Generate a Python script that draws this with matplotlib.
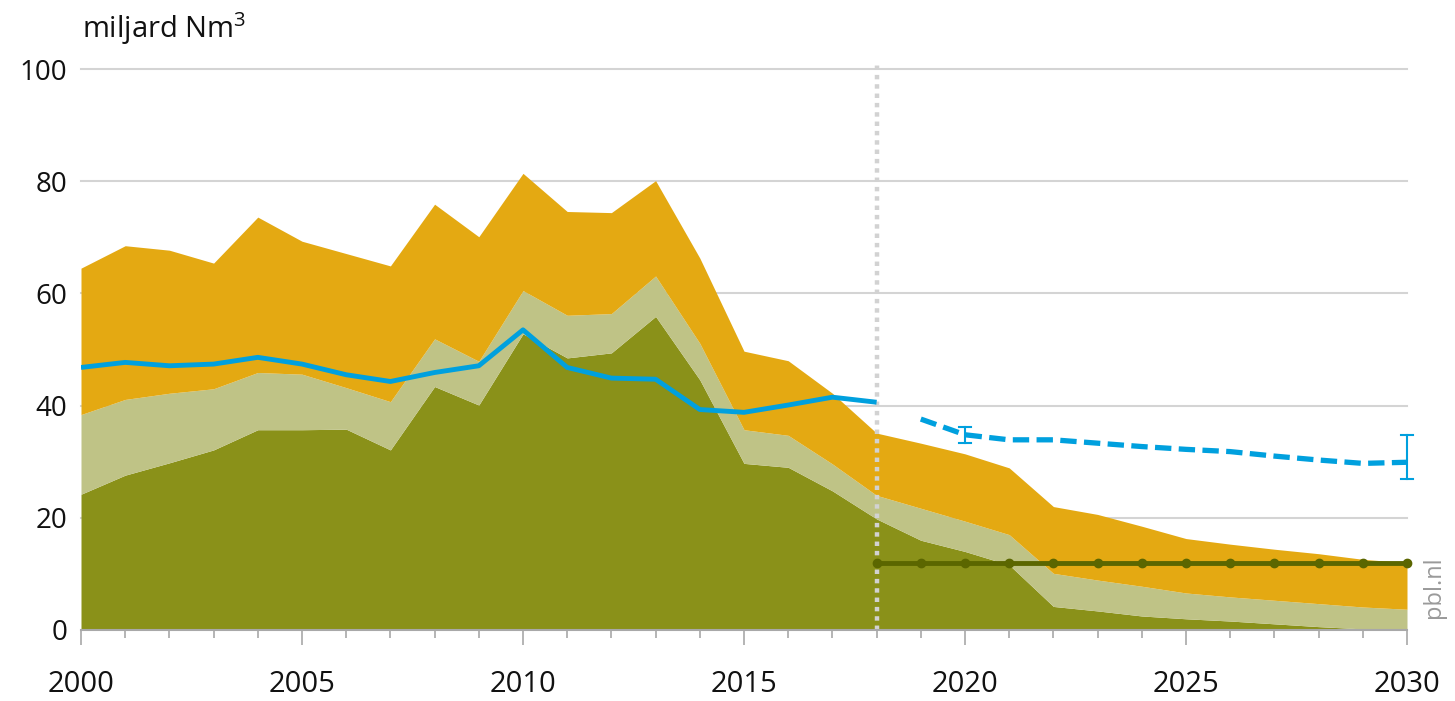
"""Aardgasverbruik en -productie, miljard Nm3, 2000-2030."""

import matplotlib

matplotlib.use("Agg")
import matplotlib.pyplot as plt
from matplotlib.ticker import MultipleLocator

plt.rcParams["font.family"] = ["Open Sans", "DejaVu Sans"]
plt.rcParams["mathtext.fontset"] = "custom"
plt.rcParams["mathtext.rm"] = "Open Sans"
plt.rcParams["mathtext.it"] = "Open Sans"

years = list(range(2000, 2031))

# bovenkant van elke laag (gestapeld)
green_top = [24.2, 27.6, 29.8, 32.1, 35.7, 35.7, 35.8, 32.1, 43.4, 40.1,
             52.8, 48.5, 49.4, 55.9, 44.6, 29.7, 29.0, 24.8, 19.8, 16.0,
             14.0, 11.6, 4.2, 3.4, 2.5, 2.0, 1.6, 1.1, 0.6, 0.2, 0.0]
khaki_top = [38.4, 41.1, 42.2, 43.0, 45.9, 45.6, 43.2, 40.7, 51.9, 47.9,
             60.5, 56.1, 56.4, 63.1, 51.1, 35.7, 34.7, 29.6, 24.0, 21.7,
             19.4, 17.0, 10.1, 8.9, 7.8, 6.6, 5.9, 5.3, 4.7, 4.1, 3.7]
orange_top = [64.5, 68.5, 67.7, 65.4, 73.6, 69.3, 67.1, 64.9, 75.9, 70.1,
              81.4, 74.6, 74.4, 80.1, 66.3, 49.7, 48.0, 42.2, 35.1, 33.3,
              31.4, 28.9, 22.0, 20.6, 18.5, 16.3, 15.3, 14.4, 13.6, 12.6, 12.0]

# verbruik: historisch (doorgetrokken) en raming (gestreept)
hist_years = list(range(2000, 2019))
hist_use = [46.8, 47.7, 47.1, 47.4, 48.6, 47.4, 45.5, 44.3, 45.9, 47.1,
            53.5, 46.8, 44.9, 44.7, 39.3, 38.8, 40.1, 41.5, 40.6]
proj_years = list(range(2019, 2031))
proj_use = [37.6, 34.8, 33.9, 33.9, 33.3, 32.7, 32.2, 31.8, 31.0, 30.3, 29.7, 29.9]

# bandbreedte van de raming
err_years = [2020, 2030]
err_low = [33.3, 27.0]
err_high = [36.1, 34.7]

# productieplafond vanaf 2018
cap_years = list(range(2018, 2031))
cap_level = [12.0] * len(cap_years)

split_year = 2018
y_ticks = [0, 20, 40, 60, 80, 100]

C_GREEN = "#8a9119"
C_KHAKI = "#bfc386"
C_ORANGE = "#e4a912"
C_BLUE = "#00a0de"
C_DARK = "#5b6600"
C_GRID = "#d4d4d4"
C_TEXT = "#111111"

fig = plt.figure(figsize=(14.55, 7.01), dpi=100)
ax = fig.add_axes([81 / 1455, 71 / 701, 1326 / 1455, 561 / 701])

ax.fill_between(years, 0, green_top, color=C_GREEN, lw=0, zorder=1)
ax.fill_between(years, green_top, khaki_top, color=C_KHAKI, lw=0, zorder=1)
ax.fill_between(years, khaki_top, orange_top, color=C_ORANGE, lw=0, zorder=1)

for val in y_ticks[1:]:
    ax.axhline(val, color=C_GRID, lw=1.5, zorder=0, clip_on=False)

ax.axvline(split_year, ymin=0, ymax=1.007, color="#d2d2d2", lw=3.2,
           linestyle=(0, (1, 1.1)), zorder=3, clip_on=False)

ax.plot(hist_years, hist_use, color=C_BLUE, lw=3.5, solid_capstyle="butt",
        solid_joinstyle="round", zorder=4)
ax.plot(proj_years, proj_use, color=C_BLUE, lw=3.8, linestyle=(0, (3.1, 1.4)),
        dash_capstyle="butt", zorder=4)

for yr, lo, hi in zip(err_years, err_low, err_high):
    ax.plot([yr, yr], [lo, hi], color=C_BLUE, lw=1.5, zorder=4, clip_on=False)
    for end in (lo, hi):
        ax.plot([yr - 0.13, yr + 0.13], [end, end], color=C_BLUE, lw=1.5,
                zorder=4, clip_on=False)

ax.plot(cap_years, cap_level, color=C_DARK, lw=3.5, marker="o", ms=6,
        solid_capstyle="round", zorder=5, clip_on=False)

ax.set_xlim(2000, 2030)
ax.set_ylim(0, 100)
ax.set_yticks(y_ticks)
ax.xaxis.set_major_locator(MultipleLocator(5))
ax.xaxis.set_minor_locator(MultipleLocator(1))

ax.tick_params(axis="y", length=0, pad=10, labelsize=20, labelcolor=C_TEXT)
ax.tick_params(axis="x", which="major", direction="out", length=11, width=1.2,
               color="#a8a8a8", pad=18, labelsize=21, labelcolor=C_TEXT)
ax.tick_params(axis="x", which="minor", direction="out", length=6, width=1.2,
               color="#a8a8a8")

for side in ("top", "right", "left"):
    ax.spines[side].set_visible(False)
ax.spines["bottom"].set_color("#a8a8a8")
ax.spines["bottom"].set_linewidth(1.5)
ax.spines["bottom"].set_zorder(6)

fig.text(82 / 1455, 1 - 38 / 701, r"miljard Nm$^{3}$", fontsize=21, color=C_TEXT,
         va="baseline", ha="left")
fig.text(1434 / 1455, 1 - 587 / 701, "pbl.nl", fontsize=17, color="#9a9a9a",
         rotation=90, va="center", ha="center")

fig.savefig("out.png", dpi=100)
plt.close(fig)
